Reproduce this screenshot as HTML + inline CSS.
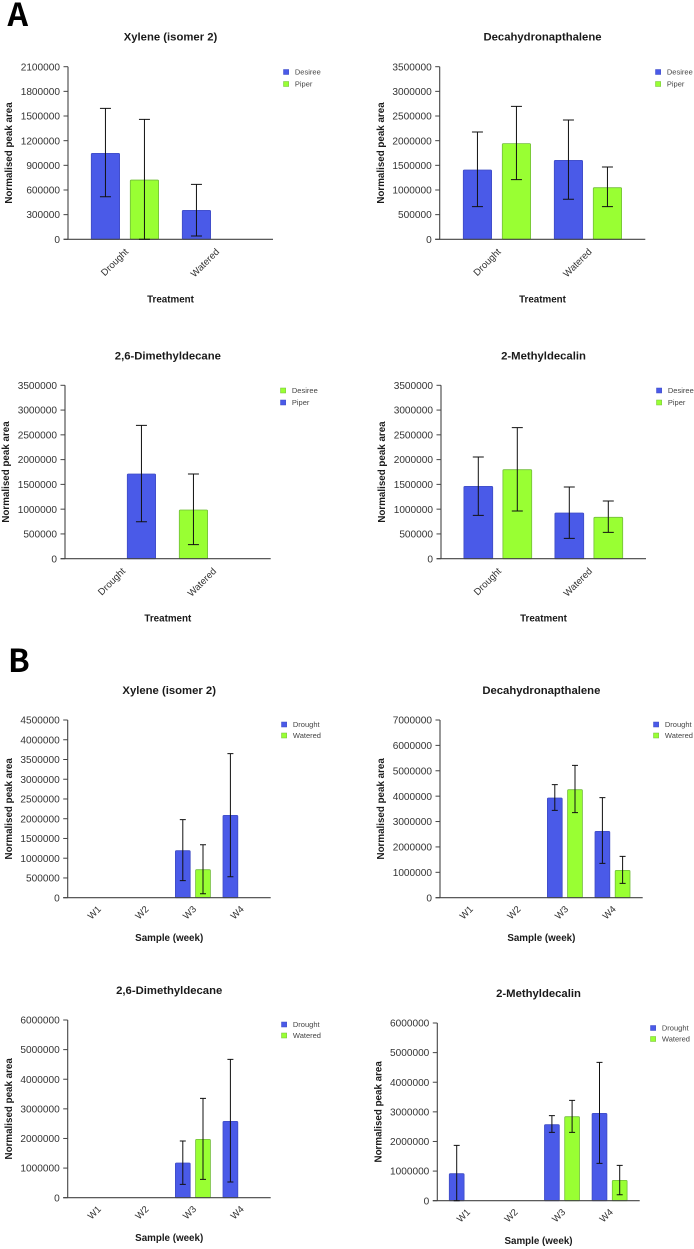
<!DOCTYPE html>
<html lang="en">
<head>
<meta charset="utf-8">
<title>Normalised peak area by treatment and sample week</title>
<style>
html,body{margin:0;padding:0;background:#fff;}
svg{display:block;filter:blur(0.25px);}
text{font-family:"Liberation Sans",Arial,sans-serif;}
.panel-letter{font-family:"Noto Sans CJK JP","Liberation Sans",sans-serif;font-weight:700;font-size:32px;fill:#000;}
.title{font-weight:700;font-size:11.3px;fill:#1a1a1a;text-anchor:middle;}
.axis-title{font-weight:700;font-size:9.8px;fill:#1a1a1a;text-anchor:middle;}
.tick{font-size:10.1px;fill:#333;text-anchor:end;}
.cat{font-size:9.6px;fill:#333;text-anchor:end;}
.legend{font-size:7.5px;fill:#444;}
</style>
</head>
<body>
<svg id="figure" xmlns="http://www.w3.org/2000/svg" width="694" height="1249" viewBox="0 0 694 1249">
<text class="panel-letter" x="7.5" y="26">A</text>
<text class="panel-letter" x="8" y="672">B</text>
</svg>
<script>
const treatments = ['Drought', 'Watered'];
const weeks = ['W1', 'W2', 'W3', 'W4'];
const cultivarNames = ['Desiree', 'Piper'];
const conditionNames = ['Drought', 'Watered'];

const a1Ticks = [0, 300000, 600000, 900000, 1200000, 1500000, 1800000, 2100000];
const a1Desiree = [1045000, 352000];
const a1DesireeLow = [518000, 40000];
const a1DesireeHigh = [1593000, 669000];
const a1Piper = [721000, null];
const a1PiperLow = [0, null];
const a1PiperHigh = [1459000, null];

const a2Ticks = [0, 500000, 1000000, 1500000, 2000000, 2500000, 3000000, 3500000];
const a2Desiree = [1405000, 1600000];
const a2DesireeLow = [662000, 811000];
const a2DesireeHigh = [2176000, 2419000];
const a2Piper = [1940000, 1047000];
const a2PiperLow = [1209000, 662000];
const a2PiperHigh = [2696000, 1466000];

const a3Ticks = [0, 500000, 1000000, 1500000, 2000000, 2500000, 3000000, 3500000];
const a3Desiree = [null, 983000];
const a3DesireeLow = [null, 283000];
const a3DesireeHigh = [null, 1710000];
const a3Piper = [1710000, null];
const a3PiperLow = [747000, null];
const a3PiperHigh = [2692000, null];

const a4Ticks = [0, 500000, 1000000, 1500000, 2000000, 2500000, 3000000, 3500000];
const a4Desiree = [1460000, 922000];
const a4DesireeLow = [875000, 410000];
const a4DesireeHigh = [2053000, 1447000];
const a4Piper = [1797000, 835000];
const a4PiperLow = [962000, 532000];
const a4PiperHigh = [2645000, 1164000];

const b1Ticks = [0, 500000, 1000000, 1500000, 2000000, 2500000, 3000000, 3500000, 4000000, 4500000];
const b1Drought = [null, null, 1190000, 2085000];
const b1DroughtLow = [null, null, 431000, 532000];
const b1DroughtHigh = [null, null, 1976000, 3647000];
const b1Watered = [null, null, 709000, null];
const b1WateredLow = [null, null, 101000, null];
const b1WateredHigh = [null, null, 1342000, null];

const b2Ticks = [0, 1000000, 2000000, 3000000, 4000000, 5000000, 6000000, 7000000];
const b2Drought = [null, null, 3927000, 2613000];
const b2DroughtLow = [null, null, 3441000, 1353000];
const b2DroughtHigh = [null, null, 4452000, 3940000];
const b2Watered = [null, null, 4255000, 1077000];
const b2WateredLow = [null, null, 3349000, 565000];
const b2WateredHigh = [null, null, 5214000, 1629000];

const b3Ticks = [0, 1000000, 2000000, 3000000, 4000000, 5000000, 6000000];
const b3Drought = [null, null, 1171000, 2578000];
const b3DroughtLow = [null, null, 450000, 529000];
const b3DroughtHigh = [null, null, 1914000, 4672000];
const b3Watered = [null, null, 1970000, null];
const b3WateredLow = [null, null, 619000, null];
const b3WateredHigh = [null, null, 3355000, null];

const b4Ticks = [0, 1000000, 2000000, 3000000, 4000000, 5000000, 6000000];
const b4Drought = [912000, null, 2567000, 2949000];
const b4DroughtLow = [0, null, 2308000, 1261000];
const b4DroughtHigh = [1869000, null, 2871000, 4672000];
const b4Watered = [null, null, 2837000, 687000];
const b4WateredLow = [null, null, 2308000, 203000];
const b4WateredHigh = [null, null, 3388000, 1193000];

const BLUE = {fill: '#4a5ae8', edge: '#3f4cc4'};
const GREEN = {fill: '#99ff33', edge: '#72bd3a'};
const svg = document.getElementById('figure');
const NS = 'http://www.w3.org/2000/svg';

function make(parent, tag, attrs, content) {
  const node = document.createElementNS(NS, tag);
  for (const key in attrs) node.setAttribute(key, attrs[key]);
  if (content !== undefined) node.textContent = content;
  parent.appendChild(node);
  return node;
}

function slug(s) {
  return s.toLowerCase().replace(/[^a-z0-9]+/g, '-').replace(/^-|-$/g, '');
}

function drawPanel(o) {
  const maxValue = o.ticks[o.ticks.length - 1];
  const yScale = v => o.base - (v / maxValue) * (o.base - o.top);
  const xScale = (cat, s) => o.firstBar + cat * o.groupStep + s * o.barStep;

  const g = make(svg, 'g', {});
  
  

  const midX = (o.axisX + o.endX) / 2;
  const title = make(g, 'text', {class: 'title', x: midX, y: o.top - o.titleGap}, o.title);
  
  

  const yTitleY = (o.top + o.base) / 2;
  const yTitle = make(g, 'text', {class: 'axis-title', x: o.axisX - 55.8, y: yTitleY, transform: 'rotate(-90 ' + (o.axisX - 55.8) + ' ' + yTitleY + ')'}, 'Normalised peak area');
  
  

  const xTitle = make(g, 'text', {class: 'axis-title', x: midX, y: o.base + o.xTitleGap}, o.xTitle);
  
  

  o.series.forEach((series, s) => {
    series.values.forEach((value, cat) => {
      if (value === null) return;
      const x = xScale(cat, s);
      const y = yScale(value);
      const bar = make(g, 'rect', {x: x, y: y, width: o.barW, height: o.base - y, rx: 1, fill: series.color.fill, stroke: series.color.edge, 'stroke-width': 0.8});
      
      
    });
  });

  const axes = make(g, 'path', {
    d: 'M' + o.axisX + ' ' + o.top + 'V' + o.base + 'M' + (o.axisX - 4.5) + ' ' + o.base + 'H' + o.endX,
    fill: 'none', stroke: '#444', 'stroke-width': 1.1
  });
  
  

  o.ticks.forEach(tick => {
    const y = yScale(tick);
    const mark = make(g, 'line', {x1: o.axisX - 4.5, x2: o.axisX, y1: y, y2: y, stroke: '#444', 'stroke-width': 1});
    
    
    const label = make(g, 'text', {class: 'tick', x: o.axisX - 8, y: y + 3.6}, String(tick));
    
    
  });

  o.categories.forEach((name, cat) => {
    const center = xScale(cat, 0) + (o.barStep + o.barW) / 2;
    const px = center + o.catDx;
    const py = o.base + o.catDy;
    const label = make(g, 'text', {class: 'cat', x: px, y: py, transform: 'rotate(-45 ' + px + ' ' + py + ')'}, name);
    
    
  });

  o.series.forEach((series, s) => {
    series.values.forEach((value, cat) => {
      if (value === null) return;
      const cx = xScale(cat, s) + o.barW / 2;
      const yHi = yScale(series.high[cat]);
      const yLo = yScale(series.low[cat]);
      const err = make(g, 'path', {
        d: 'M' + cx + ' ' + yHi + 'V' + yLo + 'M' + (cx - o.capW) + ' ' + yHi + 'H' + (cx + o.capW) + 'M' + (cx - o.capW) + ' ' + yLo + 'H' + (cx + o.capW),
        fill: 'none', stroke: '#111', 'stroke-width': 1
      });
      
      
    });
  });

  o.series.forEach((series, s) => {
    const ly = o.legendY + s * o.legendStep;
    const entry = make(g, 'g', {});
    
    
    make(entry, 'rect', {x: o.legendX, y: ly, width: 5.2, height: 5, fill: series.color.fill, stroke: series.color.edge, 'stroke-width': 0.5});
    make(entry, 'text', {class: 'legend', x: o.legendX + 11.4, y: ly + 5.2}, series.name);
  });
}

drawPanel({id: 'a1', title: 'Xylene (isomer 2)', xTitle: 'Treatment', ticks: a1Ticks, categories: treatments,
  series: [
    {name: cultivarNames[0], color: BLUE, values: a1Desiree, low: a1DesireeLow, high: a1DesireeHigh},
    {name: cultivarNames[1], color: GREEN, values: a1Piper, low: a1PiperLow, high: a1PiperHigh}
  ],
  axisX: 68, endX: 273, top: 66.7, base: 239.3, firstBar: 91.3, barW: 28.3, barStep: 39, groupStep: 91, capW: 5.5,
  titleGap: 26, xTitleGap: 63, catDx: 4, catDy: 13, legendX: 283.5, legendY: 69.5, legendStep: 12});

drawPanel({id: 'a2', title: 'Decahydronapthalene', xTitle: 'Treatment', ticks: a2Ticks, categories: treatments,
  series: [
    {name: cultivarNames[0], color: BLUE, values: a2Desiree, low: a2DesireeLow, high: a2DesireeHigh},
    {name: cultivarNames[1], color: GREEN, values: a2Piper, low: a2PiperLow, high: a2PiperHigh}
  ],
  axisX: 439.7, endX: 645.3, top: 66.7, base: 239.3, firstBar: 463.3, barW: 28.3, barStep: 39, groupStep: 91, capW: 5.5,
  titleGap: 26, xTitleGap: 63, catDx: 4.5, catDy: 13, legendX: 655.5, legendY: 69.5, legendStep: 12});

drawPanel({id: 'a3', title: '2,6-Dimethyldecane', xTitle: 'Treatment', ticks: a3Ticks, categories: treatments,
  series: [
    {name: cultivarNames[0], color: GREEN, values: a3Desiree, low: a3DesireeLow, high: a3DesireeHigh},
    {name: cultivarNames[1], color: BLUE, values: a3Piper, low: a3PiperLow, high: a3PiperHigh}
  ],
  axisX: 65, endX: 270.7, top: 385.3, base: 558.7, firstBar: 88.3, barW: 28.3, barStep: 39, groupStep: 91, capW: 5.5,
  titleGap: 26, xTitleGap: 63, catDx: 4, catDy: 13, legendX: 280.5, legendY: 388, legendStep: 12});

drawPanel({id: 'a4', title: '2-Methyldecalin', xTitle: 'Treatment', ticks: a4Ticks, categories: treatments,
  series: [
    {name: cultivarNames[0], color: BLUE, values: a4Desiree, low: a4DesireeLow, high: a4DesireeHigh},
    {name: cultivarNames[1], color: GREEN, values: a4Piper, low: a4PiperLow, high: a4PiperHigh}
  ],
  axisX: 441, endX: 646, top: 385.3, base: 558.7, firstBar: 463.9, barW: 28.8, barStep: 39, groupStep: 91, capW: 5.5,
  titleGap: 26, xTitleGap: 63, catDx: 4, catDy: 13, legendX: 656.5, legendY: 388, legendStep: 12});

drawPanel({id: 'b1', title: 'Xylene (isomer 2)', xTitle: 'Sample (week)', ticks: b1Ticks, categories: weeks,
  series: [
    {name: conditionNames[0], color: BLUE, values: b1Drought, low: b1DroughtLow, high: b1DroughtHigh},
    {name: conditionNames[1], color: GREEN, values: b1Watered, low: b1WateredLow, high: b1WateredHigh}
  ],
  axisX: 67.7, endX: 270.7, top: 720, base: 897.7, firstBar: 80.2, barW: 14.8, barStep: 20.2, groupStep: 47.6, capW: 3,
  titleGap: 26, xTitleGap: 43.5, catDx: 4, catDy: 12, legendX: 281.5, legendY: 722, legendStep: 11});

drawPanel({id: 'b2', title: 'Decahydronapthalene', xTitle: 'Sample (week)', ticks: b2Ticks, categories: weeks,
  series: [
    {name: conditionNames[0], color: BLUE, values: b2Drought, low: b2DroughtLow, high: b2DroughtHigh},
    {name: conditionNames[1], color: GREEN, values: b2Watered, low: b2WateredLow, high: b2WateredHigh}
  ],
  axisX: 440, endX: 642.7, top: 720, base: 897.7, firstBar: 452.2, barW: 14.8, barStep: 20.2, groupStep: 47.6, capW: 3,
  titleGap: 26, xTitleGap: 43.5, catDx: 4, catDy: 12, legendX: 653.5, legendY: 722, legendStep: 11});

drawPanel({id: 'b3', title: '2,6-Dimethyldecane', xTitle: 'Sample (week)', ticks: b3Ticks, categories: weeks,
  series: [
    {name: conditionNames[0], color: BLUE, values: b3Drought, low: b3DroughtLow, high: b3DroughtHigh},
    {name: conditionNames[1], color: GREEN, values: b3Watered, low: b3WateredLow, high: b3WateredHigh}
  ],
  axisX: 67.7, endX: 270.7, top: 1020, base: 1197.7, firstBar: 80.2, barW: 14.8, barStep: 20.2, groupStep: 47.6, capW: 3,
  titleGap: 26, xTitleGap: 43.5, catDx: 4, catDy: 12, legendX: 281.5, legendY: 1022, legendStep: 11});

drawPanel({id: 'b4', title: '2-Methyldecalin', xTitle: 'Sample (week)', ticks: b4Ticks, categories: weeks,
  series: [
    {name: conditionNames[0], color: BLUE, values: b4Drought, low: b4DroughtLow, high: b4DroughtHigh},
    {name: conditionNames[1], color: GREEN, values: b4Watered, low: b4WateredLow, high: b4WateredHigh}
  ],
  axisX: 437.3, endX: 639.7, top: 1023, base: 1200.7, firstBar: 449.3, barW: 14.8, barStep: 20.2, groupStep: 47.6, capW: 3,
  titleGap: 26, xTitleGap: 43.5, catDx: 4, catDy: 12, legendX: 650.5, legendY: 1025.5, legendStep: 11});
</script>
</body>
</html>
